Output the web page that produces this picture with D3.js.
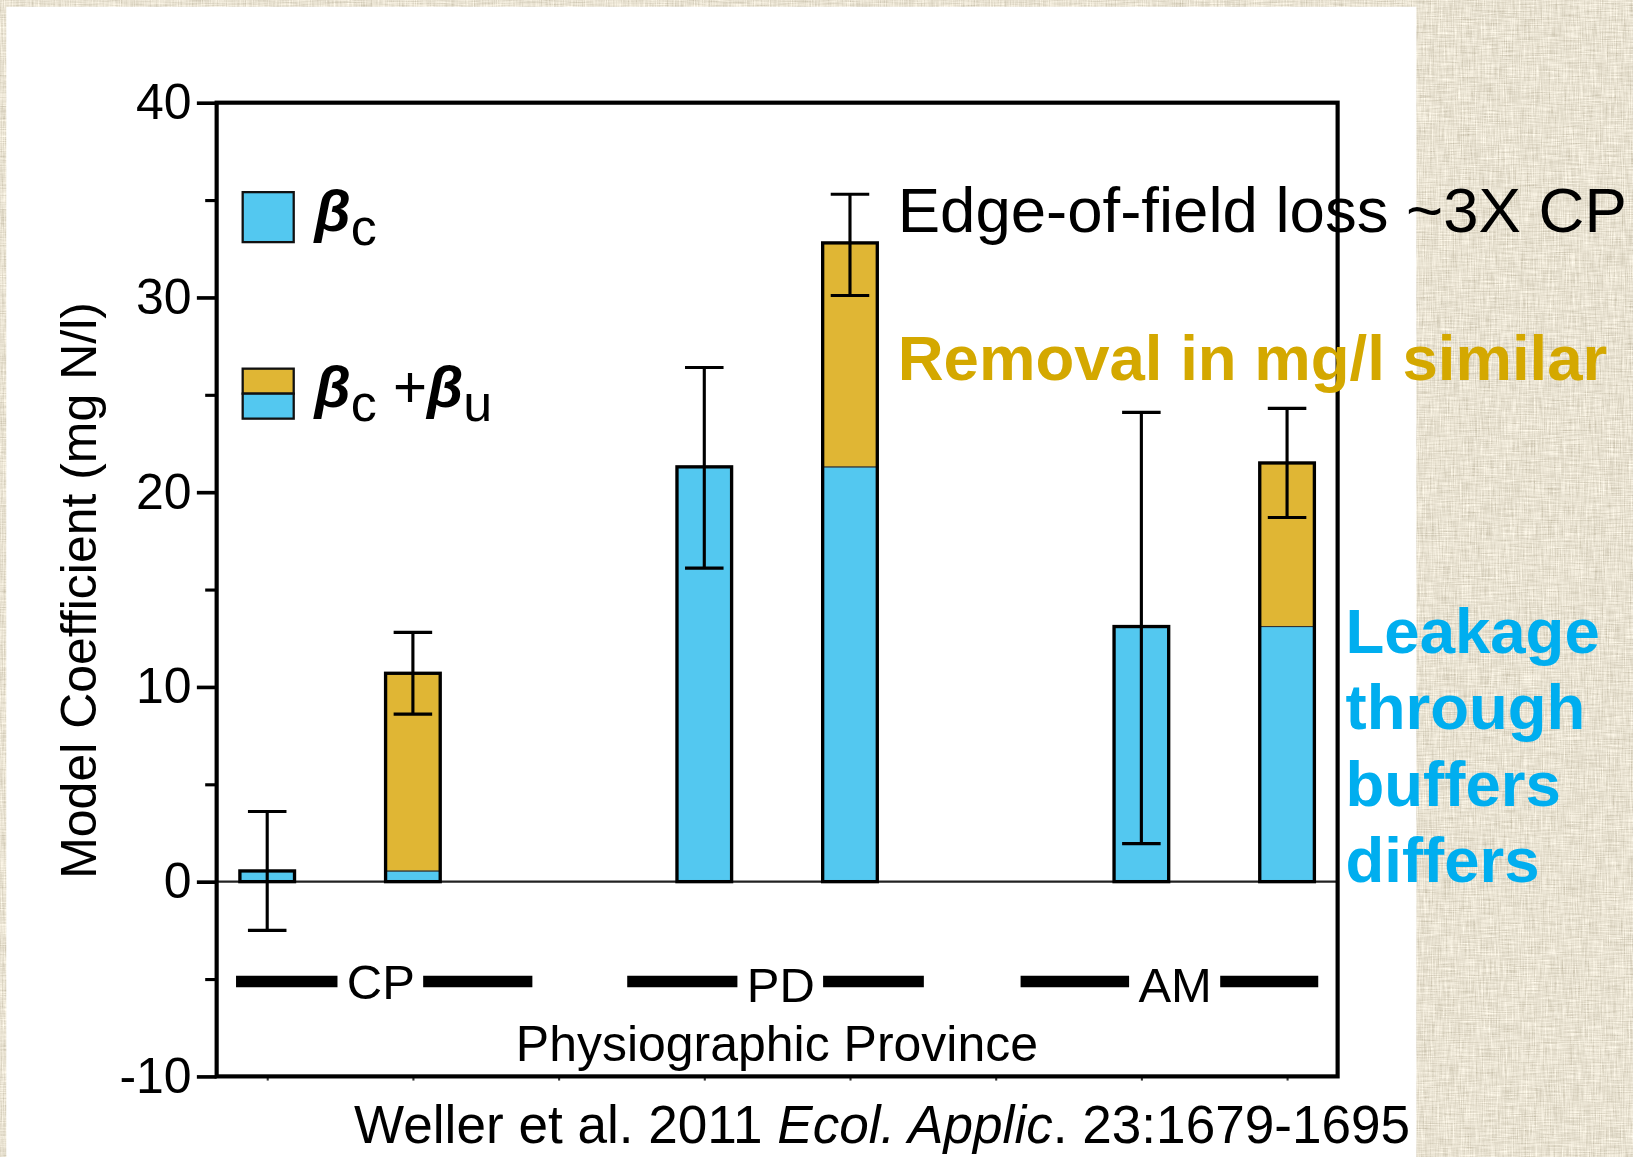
<!DOCTYPE html>
<html><head><meta charset="utf-8">
<script src="https://cdn.jsdelivr.net/npm/d3@7"></script>
<style>html,body{margin:0;padding:0;overflow:hidden;background:#d3c4a6}</style>
</head><body>
<svg id="c" width="1633" height="1157" viewBox="0 0 1568 1111"></svg>
<script>
// ---- data ----
const provinces = ["CP", "PD", "AM"];
const slots = ["CP βc", "CP βc+βu", "gap1", "PD βc", "PD βc+βu", "gap2", "AM βc", "AM βc+βu"];
const betaC      = [0.55, 21.3, 13.1];   // βc bars (also the blue part of the stacked bars)
const betaCLow   = [-2.5, 16.1, 1.95];
const betaCHigh  = [3.6, 26.4, 24.1];
const betaCU     = [10.7, 32.8, 21.5];   // βc + βu totals
const betaCULow  = [8.6, 30.1, 18.7];
const betaCUHigh = [12.8, 35.3, 24.3];
const yMajorTicks = [-10, 0, 10, 20, 30, 40];
const yMinorTicks = [-5, 5, 15, 25, 35];
const yLabel = "Model Coefficient (mg N/l)";
const xLabel = "Physiographic Province";
const note1 = "Edge-of-field loss ~3X CP";
const note2 = "Removal in mg/l similar";
const note3 = ["Leakage", "through", "buffers", "differs"];

// ---- style ----
const BLUE = "#53C8F0", GOLD = "#E0B634";
const FONT = "'Liberation Sans', Arial, Helvetica, sans-serif";

const svg = d3.select("#c");
const defs = svg.append("defs");
const f = defs.append("filter").attr("id", "burlap")
  .attr("x", 0).attr("y", 0).attr("width", 1568).attr("height", 1111)
  .attr("filterUnits", "userSpaceOnUse");
f.append("feTurbulence").attr("type", "fractalNoise").attr("baseFrequency", "0.9 0.05")
  .attr("numOctaves", 2).attr("seed", 3).attr("result", "n1");
f.append("feTurbulence").attr("type", "fractalNoise").attr("baseFrequency", "0.05 0.9")
  .attr("numOctaves", 2).attr("seed", 7).attr("result", "n2");
f.append("feComposite").attr("in", "n1").attr("in2", "n2").attr("operator", "arithmetic")
  .attr("k2", 0.5).attr("k3", 0.5).attr("result", "n");
f.append("feColorMatrix").attr("in", "n").attr("type", "matrix")
  .attr("values", "0.8 0 0 0 0.41  0.8 0 0 0 0.36  0.8 0 0 0 0.24  0 0 0 0 1");

// background
svg.append("rect").attr("x", 0).attr("y", 0).attr("width", 1568).attr("height", 1111)
  .attr("fill", "#d3c4a6");
svg.append("rect").attr("x", 0).attr("y", 0).attr("width", 1568).attr("height", 1111)
  .attr("filter", "url(#burlap)");
svg.append("rect").attr("x", 6).attr("y", 6.5).attr("width", 1354).attr("height", 1120)
  .attr("fill", "#fff");

// ---- scales ----
const L = 208, R = 1284.4, T = 98.6, B = 1033.6;
const x = d3.scalePoint().domain(slots).range([L, R]).padding(0.347);
const step = x.step();
const y = d3.scaleLinear().domain([-10, 40]).range([B, T]);
const slotX = d3.scaleLinear().domain([0, 1]).range([x(slots[0]), x(slots[1])]);
const barW = step * 0.375;

// zero line
svg.append("line").attr("x1", L).attr("x2", R).attr("y1", y(0)).attr("y2", y(0))
  .attr("stroke", "#222").attr("stroke-width", 2.2);

// axes
const gy = svg.append("g").attr("transform", `translate(${L},0)`)
  .call(d3.axisLeft(y).tickValues(yMajorTicks).tickSize(19).tickPadding(5).tickFormat(d => String(d)));
gy.select(".domain").remove();
gy.selectAll("line").attr("stroke", "#000").attr("stroke-width", 3.5);
gy.selectAll("text").attr("font-family", FONT).attr("font-size", 48).attr("fill", "#000");
const gym = svg.append("g").attr("transform", `translate(${L},0)`)
  .call(d3.axisLeft(y).tickValues(yMinorTicks).tickSize(11).tickFormat(""));
gym.select(".domain").remove();
gym.selectAll("line").attr("stroke", "#000").attr("stroke-width", 3);
const gx = svg.append("g").attr("transform", `translate(0,${B})`)
  .call(d3.axisBottom(x).tickSize(4).tickFormat(""));
gx.select(".domain").remove();
gx.selectAll("line").attr("stroke", "#333").attr("stroke-width", 2);

// ---- bars ----
const bars = [];
provinces.forEach((p, i) => {
  bars.push({ slot: slots[3 * i], segs: [[0, betaC[i], BLUE]], top: betaC[i], lo: betaCLow[i], hi: betaCHigh[i] });
  bars.push({ slot: slots[3 * i + 1], segs: [[0, betaC[i], BLUE], [betaC[i], betaCU[i], GOLD]], top: betaCU[i], lo: betaCULow[i], hi: betaCUHigh[i] });
});
const gb = svg.append("g");
bars.forEach(b => {
  const cx = x(b.slot);
  b.segs.forEach(s => {
    gb.append("rect").attr("x", cx - barW / 2).attr("width", barW)
      .attr("y", y(s[1])).attr("height", y(s[0]) - y(s[1]))
      .attr("fill", s[2]).attr("stroke", "#333").attr("stroke-width", 1);
  });
  gb.append("rect").attr("x", cx - barW / 2).attr("width", barW)
    .attr("y", y(b.top)).attr("height", y(0) - y(b.top))
    .attr("fill", "none").attr("stroke", "#000").attr("stroke-width", 3.2);
});
// error bars
const ge = svg.append("g").attr("stroke", "#000").attr("stroke-width", 3);
bars.forEach(b => {
  const cx = x(b.slot), cw = 18.5;
  ge.append("line").attr("x1", cx).attr("x2", cx).attr("y1", y(b.lo)).attr("y2", y(b.hi));
  [b.lo, b.hi].forEach(v => ge.append("line").attr("x1", cx - cw).attr("x2", cx + cw).attr("y1", y(v)).attr("y2", y(v)));
});

// plot frame
svg.append("rect").attr("x", L).attr("y", T).attr("width", R - L).attr("height", B - T)
  .attr("fill", "none").attr("stroke", "#000").attr("stroke-width", 4);

// ---- province group labels ----
const groupSpans = [[-0.214, 0.78, 1.82], [2.471, 3.525, 4.507], [5.171, 6.232, 7.214]];
const gg = svg.append("g");
provinces.forEach((p, i) => {
  const [a, c, e] = groupSpans[i].map(slotX);
  const t = gg.append("text").attr("x", c).attr("y", i === 0 ? 959 : 962)
    .attr("text-anchor", "middle").attr("font-family", FONT).attr("font-size", 47).text(p);
  const w = t.node().getComputedTextLength();
  const ly = 942.5;
  gg.append("line").attr("x1", a).attr("x2", c - w / 2 - 9).attr("y1", ly).attr("y2", ly)
    .attr("stroke", "#000").attr("stroke-width", 11);
  gg.append("line").attr("x1", c + w / 2 + 8).attr("x2", e).attr("y1", ly).attr("y2", ly)
    .attr("stroke", "#000").attr("stroke-width", 11);
});

// axis titles
svg.append("text").attr("x", 746).attr("y", 1019).attr("text-anchor", "middle")
  .attr("font-family", FONT).attr("font-size", 48).text(xLabel);
svg.append("text").attr("transform", "translate(92,567) rotate(-90)").attr("text-anchor", "middle")
  .attr("font-family", FONT).attr("font-size", 48).text(yLabel);

// ---- legend ----
const lg = svg.append("g");
lg.append("rect").attr("x", 233).attr("y", 184.5).attr("width", 49).attr("height", 48)
  .attr("fill", BLUE).attr("stroke", "#111").attr("stroke-width", 2.2);
lg.append("rect").attr("x", 233).attr("y", 354).attr("width", 49).attr("height", 24)
  .attr("fill", GOLD).attr("stroke", "#111").attr("stroke-width", 2.2);
lg.append("rect").attr("x", 233).attr("y", 378).attr("width", 49).attr("height", 24)
  .attr("fill", BLUE).attr("stroke", "#111").attr("stroke-width", 2.2);
const lt1 = lg.append("text").attr("x", 302).attr("y", 222).attr("font-family", FONT);
lt1.append("tspan").attr("font-size", 56).attr("font-style", "italic").attr("font-weight", "bold").text("β");
lt1.append("tspan").attr("font-size", 50).attr("dy", 13).text("c");
const lt2 = lg.append("text").attr("x", 302).attr("y", 391).attr("font-family", FONT);
lt2.append("tspan").attr("font-size", 56).attr("font-style", "italic").attr("font-weight", "bold").text("β");
lt2.append("tspan").attr("font-size", 50).attr("dy", 13).text("c");
lt2.append("tspan").attr("font-size", 56).attr("dy", -13).text(" +");
lt2.append("tspan").attr("font-size", 56).attr("font-style", "italic").attr("font-weight", "bold").text("β");
lt2.append("tspan").attr("font-size", 50).attr("dy", 13).text("u");

// ---- annotations ----
svg.append("text").attr("x", 862).attr("y", 223).attr("font-family", FONT)
  .attr("font-size", 61).attr("fill", "#000").text(note1);
svg.append("text").attr("x", 862).attr("y", 365).attr("font-family", FONT)
  .attr("font-size", 61).attr("font-weight", "bold").attr("fill", "#D4A800").text(note2);
const lk = svg.append("text").attr("font-family", FONT).attr("font-size", 61)
  .attr("font-weight", "bold").attr("fill", "#00AEEF");
const lkY = [627, 700, 774, 847];
note3.forEach((s, i) => lk.append("tspan").attr("x", 1292).attr("y", lkY[i]).text(s));

// citation
const cit = svg.append("text").attr("x", 340).attr("y", 1098).attr("font-family", FONT).attr("font-size", 51);
cit.append("tspan").text("Weller et al. 2011 ");
cit.append("tspan").attr("font-style", "italic").text("Ecol. Applic");
cit.append("tspan").text(". 23:1679-1695");
</script>
</body></html>
